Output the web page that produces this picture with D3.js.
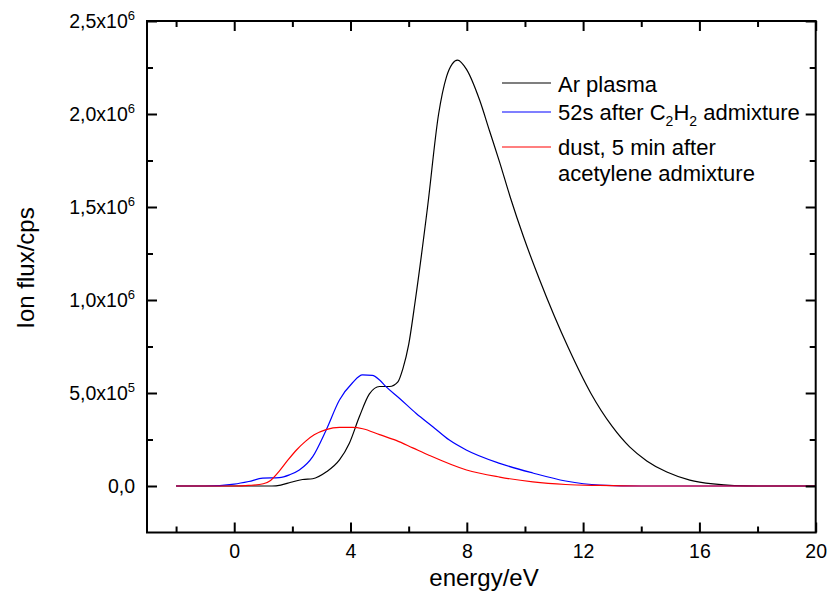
<!DOCTYPE html>
<html>
<head>
<meta charset="utf-8">
<script src="https://cdn.jsdelivr.net/npm/d3@7"></script>
<style>
  body { margin: 0; background: #fff; }
  svg { font-family: "Liberation Sans", Arial, sans-serif; }
</style>
</head>
<body>
<div class="chart"></div>
<script>
// values
const arEnergy = [-2, 0, 1, 1.3, 1.6, 1.95, 2.35, 2.7, 3.16, 3.62, 3.96, 4.31, 4.65, 5.0, 5.34, 5.63, 5.8, 6.0, 6.23, 6.65, 7.03, 7.3, 7.5, 7.68, 7.99, 8.44, 8.78, 9.13, 9.5, 9.95, 10.5, 11.5, 12.26, 13.0, 13.6, 14.19, 14.88, 15.67, 16.47, 17.2, 18, 20];
const arFlux = [0, 0, 0, 0, 5e3, 2e4, 3.5e4, 3.9e4, 7.5e4, 1.4e5, 2.3e5, 3.75e5, 4.95e5, 5.35e5, 5.35e5, 5.6e5, 6.3e5, 7.6e5, 1.0e6, 1.5e6, 2.0e6, 2.2e6, 2.27e6, 2.29e6, 2.24e6, 2.075e6, 1.91e6, 1.74e6, 1.55e6, 1.34e6, 1.11e6, 7.4e5, 5.0e5, 3.2e5, 2.1e5, 1.35e5, 7.5e4, 3.2e4, 1.1e4, 2e3, 0, 0];

const c2h2Energy = [-2, -1, 0, 0.5, 0.98, 1.55, 1.9, 2.24, 2.7, 3.16, 3.62, 4.07, 4.41, 4.75, 5.0, 5.22, 5.68, 6.26, 6.83, 7.4, 7.98, 9.13, 10.27, 11.4, 12.57, 14, 20];
const c2h2Flux = [0, 0, 1e4, 2.4e4, 4.2e4, 4.5e4, 6e4, 8.6e4, 1.58e5, 3.0e5, 4.62e5, 5.55e5, 5.97e5, 5.95e5, 5.7e5, 5.34e5, 4.72e5, 3.9e5, 3.19e5, 2.47e5, 1.94e5, 1.22e5, 7e4, 2.7e4, 5e3, 0, 0];

const dustEnergy = [-2, 0, 0.5, 1.0, 1.25, 1.55, 1.85, 2.15, 2.45, 2.75, 3.16, 3.62, 4.07, 4.42, 5.0, 5.57, 6.14, 6.66, 7.99, 9.13, 10.27, 11.4, 12.57, 14, 20];
const dustFlux = [0, 0, 3e3, 1.2e4, 3e4, 8e4, 1.4e5, 1.95e5, 2.4e5, 2.75e5, 3.03e5, 3.15e5, 3.15e5, 3.08e5, 2.76e5, 2.45e5, 2.05e5, 1.68e5, 8.6e4, 4.8e4, 2.2e4, 8e3, 3e3, 0, 0];

const xMajor = [0, 4, 8, 12, 16, 20];
const xMinor = [-2, 2, 6, 10, 14, 18];
const yMajor = [0, 5e5, 1e6, 1.5e6, 2e6, 2.5e6];
const yMinor = [2.5e5, 7.5e5, 1.25e6, 1.75e6, 2.25e6];
// mantissa / exponent for the y tick labels
const yLabels = [["0,0", ""], ["5,0x10", "5"], ["1,0x10", "6"], ["1,5x10", "6"], ["2,0x10", "6"], ["2,5x10", "6"]];

const width = 828, height = 605;
const svg = d3.select('.chart').append('svg')
  .attr('width', width).attr('height', height);

const x = d3.scaleLinear().domain([-3, 20]).range([147, 815.7]);
const y = d3.scaleLinear().domain([-2.5e5, 2.5e6]).range([532.5, 21]);

const plotLeft = x.range()[0], plotRight = x.range()[1];
const plotTop = y.range()[1], plotBottom = y.range()[0];

svg.append('defs').append('clipPath').attr('id', 'plot-clip')
  .append('rect').attr('x', plotLeft).attr('y', plotTop)
  .attr('width', plotRight - plotLeft).attr('height', plotBottom - plotTop);

// series
const series = [
  {name: 'ar', energy: arEnergy, flux: arFlux, color: '#000'},
  {name: 'c2h2', energy: c2h2Energy, flux: c2h2Flux, color: '#0000ff'},
  {name: 'dust', energy: dustEnergy, flux: dustFlux, color: '#ff0000'}
];

const line = d3.line()
  .x(d => x(d[0]))
  .y(d => y(d[1]))
  .curve(d3.curveMonotoneX);

svg.append('g').attr('clip-path', 'url(#plot-clip)')
  .selectAll('path').data(series)
  .join('path')
  .attr('d', s => line(s.energy.map((e, i) => [e, s.flux[i]])))
  .attr('fill', 'none')
  .attr('stroke', s => s.color)
  .attr('stroke-width', 1.2);

// axes, ticks pointing inward on all sides
function styleAxis(g) {
  g.select('.domain').remove();
  g.selectAll('line').attr('stroke', '#000').attr('stroke-width', 2);
}

svg.append('g').attr('transform', `translate(0,${plotBottom})`)
  .call(d3.axisBottom(x).tickValues(xMinor).tickSize(-6).tickFormat(''))
  .call(styleAxis);
svg.append('g').attr('transform', `translate(0,${plotBottom})`)
  .call(d3.axisBottom(x).tickValues(xMajor).tickSize(-10).tickPadding(12).tickFormat(d3.format('d')))
  .call(styleAxis)
  .selectAll('text').attr('font-size', 19.5).attr('fill', '#000')
  .attr('font-family', '"Liberation Sans", Arial, sans-serif');

svg.append('g').attr('transform', `translate(0,${plotTop})`)
  .call(d3.axisTop(x).tickValues(xMinor).tickSize(-6).tickFormat(''))
  .call(styleAxis);
svg.append('g').attr('transform', `translate(0,${plotTop})`)
  .call(d3.axisTop(x).tickValues(xMajor).tickSize(-10).tickFormat(''))
  .call(styleAxis);

svg.append('g').attr('transform', `translate(${plotLeft},0)`)
  .call(d3.axisLeft(y).tickValues(yMinor).tickSize(-6).tickFormat(''))
  .call(styleAxis);
const yAxis = svg.append('g').attr('transform', `translate(${plotLeft},0)`)
  .call(d3.axisLeft(y).tickValues(yMajor).tickSize(-10).tickPadding(12).tickFormat(''))
  .call(styleAxis);

yAxis.selectAll('.tick text')
  .attr('font-size', 19.5).attr('fill', '#000')
  .attr('font-family', '"Liberation Sans", Arial, sans-serif')
  .each(function(d) {
    const t = d3.select(this);
    const lab = yLabels[yMajor.indexOf(d)];
    t.append('tspan').text(lab[0]);
    if (lab[1]) {
      t.append('tspan').attr('dy', '-8').attr('font-size', 13).text(lab[1]);
    }
  });

svg.append('g').attr('transform', `translate(${plotRight},0)`)
  .call(d3.axisRight(y).tickValues(yMinor).tickSize(-6).tickFormat(''))
  .call(styleAxis);
svg.append('g').attr('transform', `translate(${plotRight},0)`)
  .call(d3.axisRight(y).tickValues(yMajor).tickSize(-10).tickFormat(''))
  .call(styleAxis);

// frame
svg.append('rect')
  .attr('x', plotLeft).attr('y', plotTop)
  .attr('width', plotRight - plotLeft).attr('height', plotBottom - plotTop)
  .attr('fill', 'none').attr('stroke', '#000').attr('stroke-width', 2);

// axis titles
svg.append('text')
  .attr('x', 484).attr('y', 586)
  .attr('text-anchor', 'middle').attr('font-size', 24)
  .text('energy/eV');

svg.append('text')
  .attr('transform', 'translate(34,268) rotate(-90)')
  .attr('text-anchor', 'middle').attr('font-size', 24)
  .text('Ion flux/cps');

// legend
const legendLines = [
  {color: '#000', ly: 83},
  {color: '#0000ff', ly: 112},
  {color: '#ff0000', ly: 147}
];
svg.append('g').selectAll('line').data(legendLines)
  .join('line')
  .attr('x1', 502).attr('x2', 551)
  .attr('y1', d => d.ly).attr('y2', d => d.ly)
  .attr('stroke', d => d.color).attr('stroke-width', 1.2);

const leg = svg.append('g').attr('font-size', 22);
leg.append('text').attr('x', 558).attr('y', 92).text('Ar plasma');
const t2 = leg.append('text').attr('x', 558).attr('y', 120);
t2.append('tspan').text('52s after C');
t2.append('tspan').attr('font-size', 14).attr('dy', 6).text('2');
t2.append('tspan').attr('dy', -6).text('H');
t2.append('tspan').attr('font-size', 14).attr('dy', 6).text('2');
t2.append('tspan').attr('dy', -6).text(' admixture');
leg.append('text').attr('x', 558).attr('y', 155).text('dust, 5 min after');
leg.append('text').attr('x', 558).attr('y', 181).text('acetylene admixture');
</script>
</body>
</html>
